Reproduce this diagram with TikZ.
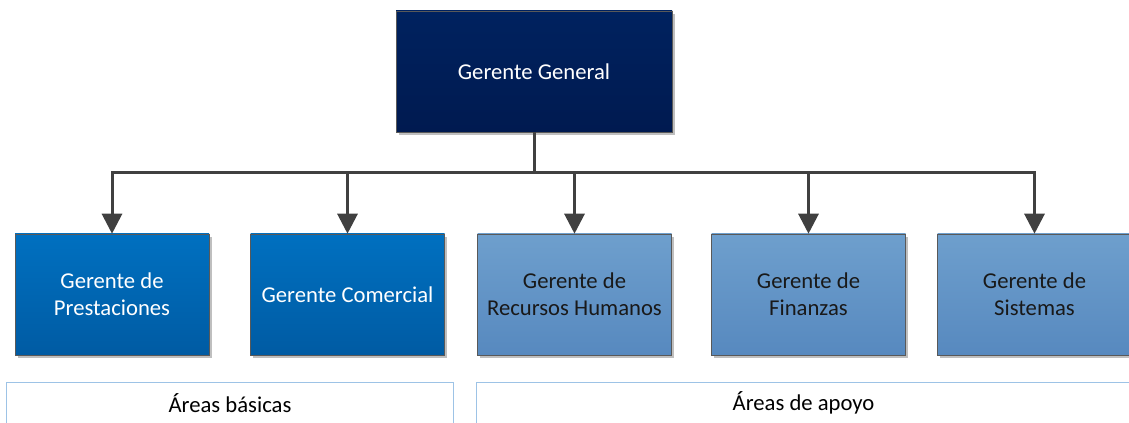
\documentclass[tikz,border=0pt]{standalone}
\usepackage{fontspec}
\setmainfont{Carlito}
\usetikzlibrary{arrows.meta,shadows}
\definecolor{navyT}{HTML}{00225F}
\definecolor{navyB}{HTML}{001A50}
\definecolor{blueT}{HTML}{0070C0}
\definecolor{blueB}{HTML}{005BA3}
\definecolor{lightT}{HTML}{6E9FCD}
\definecolor{lightB}{HTML}{5789BF}
\definecolor{lineC}{HTML}{404040}
\definecolor{areaC}{HTML}{9DC3E6}
\begin{document}
\begin{tikzpicture}[x=0.75pt,y=-0.75pt,
  orgbox/.style={rectangle, minimum width=145.5pt, minimum height=90.75pt,
    draw=black!65, line width=0.4pt, align=center, inner sep=0pt,
    font=\fontsize{17}{20.5}\selectfont,
    drop shadow={shadow xshift=2.2pt, shadow yshift=-2.2pt, fill=black!25, opacity=1}},
  topbox/.style={orgbox, minimum width=207pt, top color=navyT, bottom color=navyB, text=white},
  darkbox/.style={orgbox, top color=blueT, bottom color=blueB, text=white},
  lightbox/.style={orgbox, top color=lightT, bottom color=lightB, text=black!90},
  wire/.style={draw=lineC, line width=2.25pt},
  conn/.style={wire, -{Triangle[width=15pt,length=15pt]}},
  arealabel/.style={rectangle, minimum height=30pt, inner sep=0pt, font=\fontsize{17}{20.5}\selectfont},
  areaborder/.style={draw=areaC, line width=0.6pt}
]
\useasboundingbox (0,0) rectangle (1129,423);

\node[topbox] (gg) at (534,71.5) {Gerente General};

\node[darkbox]  (prest) at (112,294.5)   {Gerente de\\Prestaciones};
\node[darkbox]  (com)   at (347.5,294.5) {Gerente Comercial};
\node[lightbox] (rh)    at (574.5,294.5) {Gerente de\\Recursos Humanos};
\node[lightbox] (fin)   at (808.5,294.5) {Gerente de\\Finanzas};
\node[lightbox] (sis)   at (1034.5,294.5) {Gerente de\\Sistemas};

\coordinate (bus) at (534,173);
\draw[wire] (gg.south) -- (bus);
\draw[wire, line cap=rect] (prest.north |- bus) -- (sis.north |- bus);
\foreach \n in {prest,com,rh,fin,sis}
  \draw[conn] (\n.north |- bus) -- (\n.north);

\node[arealabel, minimum width=334.5pt] (ab) at (230,403) {Áreas básicas};
\node[arealabel, minimum width=490pt]   (aa) at (803.5,403) {Áreas de apoyo};
\draw[areaborder] ([yshift=-10pt]ab.south west) -- (ab.north west) -- (ab.north east) -- ([yshift=-10pt]ab.south east);
\draw[areaborder] ([yshift=-10pt]aa.south west) -- (aa.north west) -- (aa.north east) -- ([yshift=-10pt]aa.south east);
\end{tikzpicture}
\end{document}
